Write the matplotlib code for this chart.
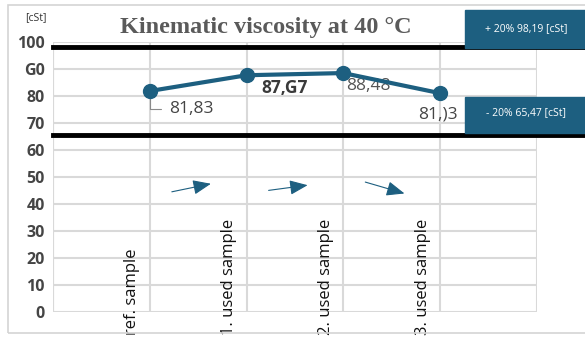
import numpy as np
import matplotlib.pyplot as plt
from matplotlib.patches import Rectangle
import matplotlib.transforms as mtransforms

# kinematic viscosity at 40 C, cSt
samples = ['ref. sample', '1. used sample', '2. used sample', '3. used sample']
visc = [81.83, 87.67, 88.48, 81.03]
point_labels = ['81,83', '87,G7', '88,48', '81,)3']
ytick_vals = [0, 10, 20, 30, 40, 50, 60, 70, 80, 90, 100]
ytick_labels = ['0', '10', '20', '30', '40', '50', '60', '70', '80', 'G0', '100']
limit_hi = 98.19
limit_lo = 65.47
limit_hi_txt = '+ 20% 98,19 [cSt]'
limit_lo_txt = '- 20% 65,47 [cSt]'
# trend arrows between samples (rise of each arrow in axis units)
arrow_rise = [3.4, 2.2, -4.8]

blue = '#1d5f80'
grid_c = '#d9d9d9'
txt_c = '#454545'

fig = plt.figure(figsize=(5.85, 3.38), dpi=100)
fig.patches.append(Rectangle((0.0137, 0.0148), 0.99, 0.97, transform=fig.transFigure,
                             fill=False, edgecolor='#d4d4d4', lw=1.2))
ax = fig.add_axes([0.0906, 0.0769, 0.827, 0.799])

x = np.arange(1, len(visc) + 1)
ax.set_xlim(0, 5)
ax.set_ylim(0, 100)
ax.set_yticks(ytick_vals)
ax.set_yticklabels(ytick_labels, fontsize=11.5, fontweight='bold', color=txt_c,
                   family='Open Sans')
ax.set_xticks(np.arange(0, 6))
ax.set_xticklabels([])
ax.tick_params(length=0, pad=6)
ax.grid(True, color=grid_c, lw=1.5)
ax.set_axisbelow(True)
for s in ax.spines.values():
    s.set_visible(False)
ax.axvline(0, color=grid_c, lw=1.5)

# limit lines run across to the right edge
ax.axhline(limit_hi, xmin=0, xmax=1.11, color='black', lw=3.5, clip_on=False, zorder=3)
ax.axhline(limit_lo, xmin=0, xmax=1.11, color='black', lw=3.5, clip_on=False, zorder=3)

ax.plot(x, visc, color=blue, lw=3, marker='o', ms=10, zorder=5)

# data labels
ax.annotate(point_labels[0], (x[0], visc[0]), xytext=(14, -13), textcoords='offset points',
            fontsize=12.5, color=txt_c, va='center', ha='left', family='Open Sans',
            arrowprops=dict(arrowstyle='-', color='#8a8a8a', lw=0.8,
                            connectionstyle='angle,angleA=0,angleB=90,rad=0',
                            shrinkA=4, shrinkB=4))
ax.annotate(point_labels[1], (x[1], visc[1]), xytext=(11, -9), textcoords='offset points',
            fontsize=12.5, fontweight='bold', color='#3a3a3a', va='center', ha='left',
            family='Open Sans')
ax.annotate(point_labels[2], (x[2], visc[2]), xytext=(2, -9), textcoords='offset points',
            fontsize=12.5, color='#555555', va='center', ha='left', family='Open Sans', zorder=4)
ax.annotate(point_labels[3], (x[3], visc[3]), xytext=(13, -15), textcoords='offset points',
            fontsize=12.5, color=txt_c, va='center', ha='right', family='Open Sans')

# trend arrows
for i, r in enumerate(arrow_rise):
    x0 = x[i] + 0.2
    ax.annotate('', xy=(x0 + 0.46, 46 + r / 2), xytext=(x0, 46 - r / 2),
                arrowprops=dict(arrowstyle='-|>,head_length=1.1,head_width=0.45',
                                color=blue, lw=0.8))

# category names written vertically inside the plot
for xi, name in zip(x, samples):
    ax.text(xi - 0.18, -8.5, name, rotation=90, ha='center', va='bottom',
            fontsize=12, color='#111111', family='Open Sans', clip_on=False)

# limit boxes
tr = mtransforms.blended_transform_factory(fig.transFigure, fig.transFigure)
fig.patches.append(Rectangle((465 / 585, 1 - 48 / 338), 1, 38 / 338, transform=tr,
                             color=blue, zorder=2))
fig.patches.append(Rectangle((465 / 585, 1 - 133 / 338), 1, 36 / 338, transform=tr,
                             color=blue, zorder=2))
fig.text(526 / 585, 1 - 29 / 338, limit_hi_txt, color='white', fontsize=7.5,
         ha='center', va='center', family='Open Sans')
fig.text(526 / 585, 1 - 113 / 338, limit_lo_txt, color='white', fontsize=7.5,
         ha='center', va='center', family='Open Sans')

fig.text(266 / 585, 1 - 27 / 338, 'Kinematic viscosity at 40 \u00b0C', fontsize=17.5,
         fontweight='bold', color='#5a5a5a', family='Liberation Serif', ha='center', va='center')
fig.text(36 / 585, 1 - 18 / 338, '[cSt]', fontsize=7.5, color='#333333', ha='center',
         va='center', family='Open Sans')

fig.savefig('out.png', dpi=100)
